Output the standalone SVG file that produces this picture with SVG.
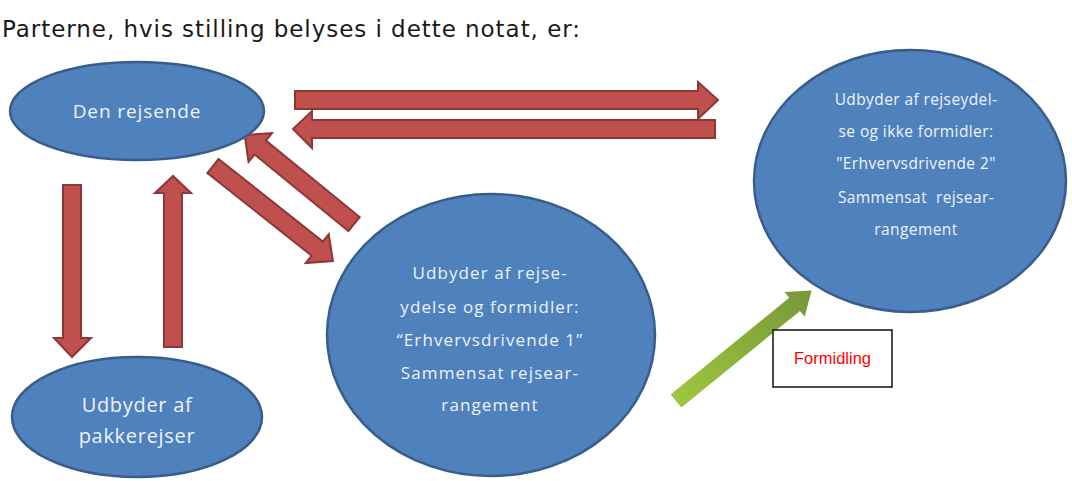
<svg xmlns="http://www.w3.org/2000/svg" width="1072" height="481" viewBox="0 0 1072 481">
  <style>
    .node { fill: #4f81bd; stroke: #385d8a; stroke-width: 2.5; }
    .lbl { font-family: "Open Sans", "Noto Sans", sans-serif; fill: #eef3fb; text-anchor: middle; }
    .red { fill: #c0504d; stroke: #8c3836; stroke-width: 2; stroke-linejoin: miter; }
    .title { font-family: "DejaVu Sans", Verdana, sans-serif; font-size: 23px; fill: #1a1a1a; }
  </style>
  <defs>
    <linearGradient id="gg" x1="0" y1="0" x2="1" y2="0">
      <stop offset="0" stop-color="#9fc63f"/>
      <stop offset="1" stop-color="#76973a"/>
    </linearGradient>
  </defs>
  <rect width="1072" height="481" fill="#ffffff"/>
  <text class="title" x="2" y="37" textLength="578" lengthAdjust="spacing">Parterne, hvis stilling belyses i dette notat, er:</text>

  <g id="connectors">
    <polygon class="red" points="295,91 698,91 698,82 718,100 698,119 698,109 295,109"/>
    <polygon class="red" points="715,120 312,120 312,111 293,129 312,148 312,138 715,138"/>
    <polygon class="red" points="63,185 81,185 81,338 91,338 72,357 54,338 63,338"/>
    <polygon class="red" points="164,347 182,347 182,193 191,193 173,176 155,193 164,193"/>
    <polygon class="red" transform="translate(213,166) rotate(38.4)" points="0,-9 133,-9 133,-18.5 153,0 133,18.5 133,9 0,9"/>
    <polygon class="red" transform="translate(354,224) rotate(219.2)" points="0,-9 121,-9 121,-18.5 141,0 121,18.5 121,9 0,9"/>
    <polygon fill="url(#gg)" transform="translate(676,401) rotate(-39.2)" points="0,-8.5 153,-8.5 153,-16 175,0 153,16 153,8.5 0,8.5"/>
  </g>

  <g id="node-rejsende">
    <ellipse class="node" cx="137" cy="111" rx="127" ry="49"/>
    <text class="lbl" x="137" y="118" font-size="19" letter-spacing="0.9">Den rejsende</text>
  </g>

  <g id="node-pakkerejser">
    <ellipse class="node" cx="137" cy="417" rx="125" ry="60"/>
    <text class="lbl" x="137" y="412" font-size="20" letter-spacing="0.7">Udbyder af</text>
    <text class="lbl" x="137" y="443" font-size="20" letter-spacing="0.7">pakkerejser</text>
  </g>

  <g id="node-erhverv1">
    <ellipse class="node" cx="491" cy="335" rx="164" ry="141"/>
    <g letter-spacing="1.1">
      <text class="lbl" x="490" y="279" font-size="17">Udbyder af rejse-</text>
      <text class="lbl" x="490" y="313" font-size="17">ydelse og formidler:</text>
      <text class="lbl" x="490" y="346" font-size="17">“Erhvervsdrivende 1”</text>
      <text class="lbl" x="490" y="379" font-size="17">Sammensat rejsear-</text>
      <text class="lbl" x="490" y="411" font-size="17">rangement</text>
    </g>
  </g>

  <g id="node-erhverv2">
    <ellipse class="node" cx="910" cy="181" rx="156" ry="131"/>
    <g letter-spacing="0.4">
      <text class="lbl" x="916" y="105" font-size="15.5">Udbyder af rejseydel-</text>
      <text class="lbl" x="916" y="137" font-size="15.5">se og ikke formidler:</text>
      <text class="lbl" x="916" y="169" font-size="15.5">"Erhvervsdrivende 2"</text>
      <text class="lbl" x="916" y="203" font-size="15.5" xml:space="preserve">Sammensat  rejsear-</text>
      <text class="lbl" x="916" y="235" font-size="15.5">rangement</text>
    </g>
  </g>

  <g id="node-formidling">
    <rect x="773" y="330" width="119" height="57" fill="#ffffff" stroke="#111111" stroke-width="1.5"/>
    <text x="832.5" y="364" font-family="'Liberation Sans', Arial, sans-serif" font-size="16.5" fill="#ff0000" text-anchor="middle">Formidling</text>
  </g>
</svg>
